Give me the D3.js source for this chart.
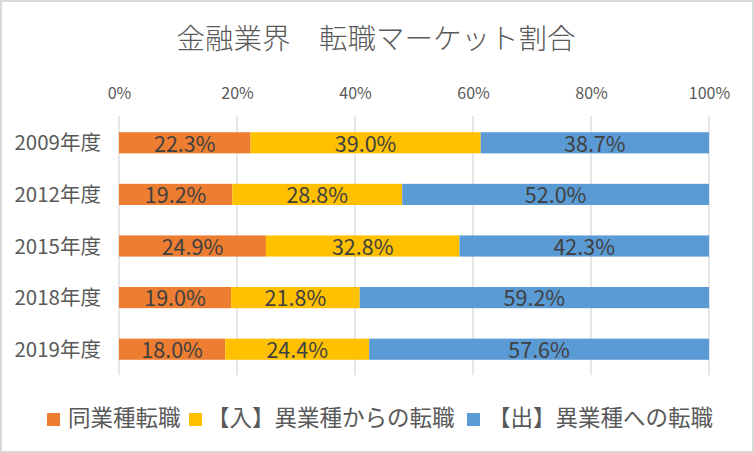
<!DOCTYPE html>
<html><head><meta charset="utf-8">
<script src="https://cdn.jsdelivr.net/npm/d3@7"></script>
<style>
html,body{margin:0;padding:0;background:#fff;}
svg{display:block;font-family:"Noto Sans CJK JP","Noto Sans",sans-serif;}
</style></head>
<body><svg id="c" width="754" height="453"></svg>
<script>
const categories = ["2009年度","2012年度","2015年度","2018年度","2019年度"];
const seriesNames = ["同業種転職","【入】異業種からの転職","【出】異業種への転職"];
const sameIndustry = [22.3,19.2,24.9,19.0,18.0];
const inFromOther = [39.0,28.8,32.8,21.8,24.4];
const outToOther = [38.7,52.0,42.3,59.2,57.6];
const tickValues = [0,20,40,60,80,100];
const colors = ["#ED7D31","#FFC000","#5B9BD5"];

const svg = d3.select("#c");
const W = 754, H = 453;
svg.append("rect").attr("x",1).attr("y",1).attr("width",W-2).attr("height",H-2)
  .attr("fill","#fff").attr("stroke","#d9d9d9").attr("stroke-width",2);

svg.append("text").attr("x",376).attr("y",39).attr("dy","0.36em").attr("text-anchor","middle")
  .attr("font-size",28.5).attr("fill","#595959").attr("font-weight",300)
  .text("金融業界　転職マーケット割合");

const x = d3.scaleLinear().domain([0,100]).range([119,709]);
const y = d3.scaleBand().domain(categories).range([117,375]).paddingInner(0.59).paddingOuter(0.295);

// gridlines
svg.append("g").selectAll("line").data(tickValues).join("line")
  .attr("x1",d=>x(d)).attr("x2",d=>x(d)).attr("y1",116).attr("y2",375)
  .attr("stroke","#d9d9d9").attr("stroke-width",1.3);

// top axis labels
const ax = d3.axisTop(x).tickValues(tickValues).tickFormat(d=>d+"%").tickSize(0).tickPadding(0);
const gax = svg.append("g").attr("transform","translate(0,93)").call(ax);
gax.select(".domain").remove();
gax.selectAll("text").attr("font-size",16).attr("fill","#595959")
  .attr("font-family","'Noto Sans CJK JP',sans-serif").attr("dy","0.36em");

// category axis
const ay = d3.axisLeft(y).tickSize(0).tickPadding(0);
const gay = svg.append("g").attr("transform","translate(101,1)").call(ay);
gay.select(".domain").remove();
gay.selectAll("text").attr("font-size",20.5).attr("fill","#595959").attr("font-family","'Noto Sans CJK JP',sans-serif");

const seriesData = [sameIndustry,inFromOther,outToOther];
const rows = categories.map((c,i)=>{
  const o={cat:c}; seriesNames.forEach((s,j)=>o[s]=seriesData[j][i]); return o;
});
const stack = d3.stack().keys(seriesNames)(rows);

const g = svg.append("g");
stack.forEach((layer,j)=>{
  g.selectAll(null).data(layer).join("rect")
    .attr("x",d=>x(d[0])).attr("width",d=>x(d[1])-x(d[0]))
    .attr("y",d=>y(d.data.cat)).attr("height",y.bandwidth())
    .attr("fill",colors[j]);
  g.selectAll(null).data(layer).join("text")
    .attr("x",d=>(x(d[0])+x(d[1]))/2).attr("y",d=>y(d.data.cat)+y.bandwidth()/2+1)
    .attr("dy","0.36em").attr("text-anchor","middle")
    .attr("font-size",21.5).attr("fill","#404040")
    .text(d=>(d[1]-d[0]).toFixed(1)+"%");
});

// legend
const legendX = [47,189,467];
const legendTextX = [68,207,488];
const lg = svg.append("g");
seriesNames.forEach((s,j)=>{
  lg.append("rect").attr("x",legendX[j]).attr("y",413).attr("width",13).attr("height",13).attr("fill",colors[j]);
  lg.append("text").attr("x",legendTextX[j]).attr("y",418).attr("dy","0.36em")
    .attr("font-size",22.5).attr("fill","#595959").text(s);
});
</script></body></html>
